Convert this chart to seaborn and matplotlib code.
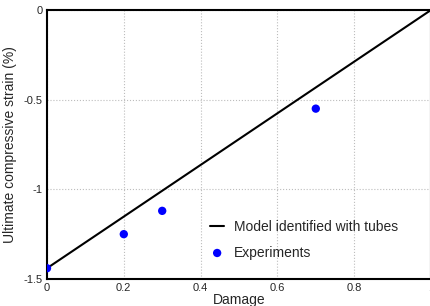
import numpy as np
import pandas as pd
import matplotlib
matplotlib.use("Agg")
import matplotlib.pyplot as plt
import seaborn as sns

# model line (linear, identified with tubes)
model_damage = [0.0, 1.0]
model_strain = [-1.44, 0.0]

# experimental points
exp_damage = [0.0, 0.2, 0.3, 0.7]
exp_strain = [-1.44, -1.25, -1.12, -0.55]

x_ticks = [0, 0.2, 0.4, 0.6, 0.8, 1]
x_labels = ["0", "0.2", "0.4", "0.6", "0.8", "1"]
y_ticks = [-1.5, -1, -0.5, 0]
y_labels = ["-1.5", "-1", "-0.5", "0"]

df_model = pd.DataFrame({"Damage": model_damage, "Strain": model_strain})
df_exp = pd.DataFrame({"Damage": exp_damage, "Strain": exp_strain})

sns.set_style("white")
plt.rcParams["font.family"] = ["Liberation Sans", "DejaVu Sans"]

fig = plt.figure(figsize=(4.31, 3.06), dpi=100)
ax = fig.add_axes([47 / 431, 1 - 279 / 306, 384 / 431, 269 / 306])

sns.lineplot(data=df_model, x="Damage", y="Strain", ax=ax, color="black",
             linewidth=1.5, label="Model identified with tubes")
sns.scatterplot(data=df_exp, x="Damage", y="Strain", ax=ax, color="blue",
                s=36, edgecolor="none", label="Experiments", zorder=3)

ax.set_xlim(0, 1)
ax.set_ylim(-1.5, 0)
ax.set_xticks(x_ticks)
ax.set_xticklabels(x_labels)
ax.set_yticks(y_ticks)
ax.set_yticklabels(y_labels)
ax.grid(True, linestyle=":", color="#bdbdbd", linewidth=0.8)
ax.tick_params(direction="in", length=3, labelsize=8, color="black", pad=3)
for s in ax.spines.values():
    s.set_color("black")
    s.set_linewidth(1.5)

ax.set_xlabel("Damage", fontsize=10, labelpad=0)
ax.set_ylabel("Ultimate compressive strain (%)", fontsize=10, labelpad=5)

leg = ax.legend(loc="upper left", bbox_to_anchor=(0.425, 0.22), frameon=False,
                fontsize=10, handlelength=1.0, handletextpad=0.7,
                labelspacing=0.85, borderaxespad=0, borderpad=0)

fig.savefig("out.png", dpi=100)
